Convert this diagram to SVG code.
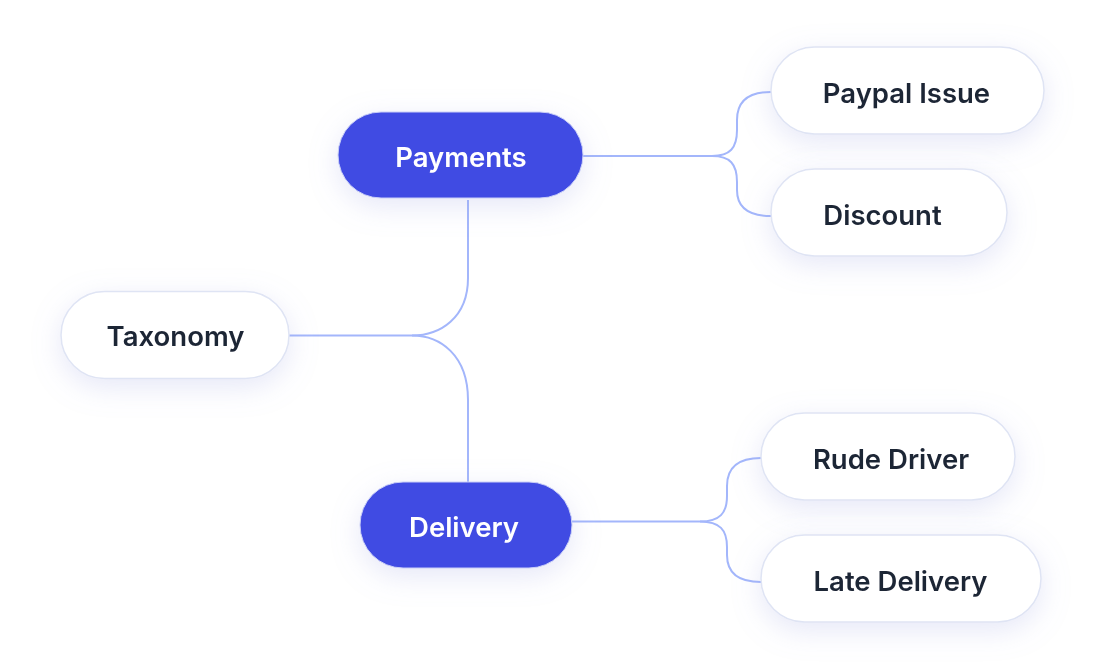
<svg xmlns="http://www.w3.org/2000/svg" width="1106" height="672" viewBox="0 0 1106 672">
  <defs>
    <filter id="shadow" x="-30%" y="-50%" width="160%" height="220%">
      <feDropShadow dx="0" dy="8" stdDeviation="14" flood-color="#9aa3e0" flood-opacity="0.25"/>
    </filter>
    <style>
      .conn { fill: none; stroke: #a3b6fb; stroke-width: 2; }
      .white { fill: #ffffff; stroke: #dfe4f4; stroke-width: 1.5; }
      .blue { fill: #414be3; stroke: #c9cff7; stroke-width: 1; }
      .lbl { font-family: Inter, "Liberation Sans", sans-serif; font-weight: 600; font-size: 27.5px; text-anchor: middle; }
      .dark { fill: #1e2536; }
      .light { fill: #ffffff; }
    </style>
  </defs>
  <rect width="1106" height="672" fill="#ffffff"/>
  <g id="connectors">
    <path class="conn" d="M289,335.5 H412 C440,335.5 468,318 468,278 V200"/>
    <path class="conn" d="M412,335.5 C440,335.5 468,355 468,400 V482"/>
    <path class="conn" d="M583,156 H712 C730,156 737,148 737,130 V120 C737,100 750,92 771,92"/>
    <path class="conn" d="M712,156 C730,156 737,164 737,182 V190 C737,209 750,216 771,216"/>
    <path class="conn" d="M572,521.5 H700 C720,521.5 727,513 727,496 V486 C727,466 740,458 761,458"/>
    <path class="conn" d="M700,521.5 C720,521.5 727,530 727,547 V555 C727,574 740,582 761,582"/>
  </g>
  <g id="node-taxonomy" filter="url(#shadow)">
    <rect class="white" x="61" y="291.5" width="228" height="87" rx="43.5"/>
    <text class="lbl dark" x="175.5" y="345.5">Taxonomy</text>
  </g>
  <g id="node-payments" filter="url(#shadow)">
    <rect class="blue" x="338" y="112" width="245" height="86" rx="43"/>
    <text class="lbl light" x="461" y="166.5">Payments</text>
  </g>
  <g id="node-delivery" filter="url(#shadow)">
    <rect class="blue" x="360" y="482" width="212" height="86" rx="43"/>
    <text class="lbl light" x="464" y="536.5">Delivery</text>
  </g>
  <g id="node-paypal" filter="url(#shadow)">
    <rect class="white" x="771" y="47" width="273" height="87" rx="43.5"/>
    <text class="lbl dark" x="906.5" y="102.5">Paypal Issue</text>
  </g>
  <g id="node-discount" filter="url(#shadow)">
    <rect class="white" x="771" y="169" width="236" height="87" rx="43.5"/>
    <text class="lbl dark" x="882.5" y="224.5">Discount</text>
  </g>
  <g id="node-rude" filter="url(#shadow)">
    <rect class="white" x="761" y="413" width="254" height="87" rx="43.5"/>
    <text class="lbl dark" x="891" y="468.5">Rude Driver</text>
  </g>
  <g id="node-late" filter="url(#shadow)">
    <rect class="white" x="761" y="535" width="280" height="87" rx="43.5"/>
    <text class="lbl dark" x="900.5" y="590.5">Late Delivery</text>
  </g>
</svg>
